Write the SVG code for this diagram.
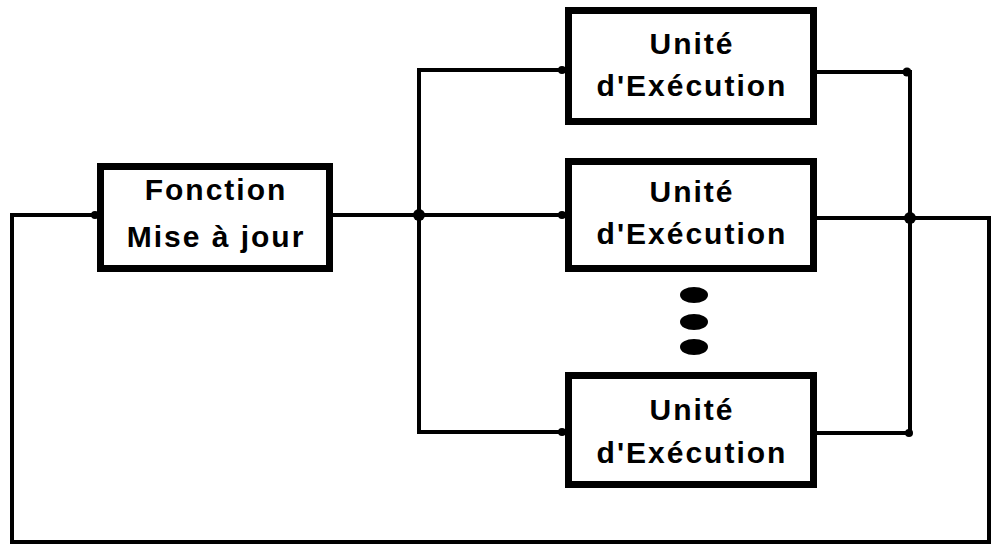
<svg xmlns="http://www.w3.org/2000/svg" width="993" height="545" viewBox="0 0 993 545">
  <style>
    .box { fill: #fff; stroke: #000; stroke-width: 7; }
    .wire { fill: none; stroke: #000; stroke-width: 4; stroke-linejoin: miter; stroke-linecap: square; }
    .label { font-family: "Liberation Sans", Arial, sans-serif; font-weight: bold; font-size: 30px; letter-spacing: 2px; fill: #000; text-anchor: middle; }
    .dot { fill: #000; }
  </style>
  <rect width="993" height="545" fill="#fff"/>

  <!-- connectors -->
  <g id="connectors">
    <!-- feed from the update function to the split bus -->
    <path class="wire" d="M333 215 L565 215"/>
    <!-- left distribution bus -->
    <path class="wire" d="M565 70 L419 70 L419 432 L565 432"/>
    <!-- right collection bus -->
    <path class="wire" d="M817 72 L910 72 L910 433 L817 433"/>
    <path class="wire" d="M817 218 L989 218 L989 542 L12 542 L12 215 L97 215"/>
    <!-- junctions -->
    <circle class="dot" cx="419" cy="215" r="6"/>
    <circle class="dot" cx="910" cy="218" r="6"/>
    <circle class="dot" cx="907" cy="72" r="4.5"/>
    <circle class="dot" cx="909" cy="433" r="4"/>
    <!-- entry points -->
    <circle class="dot" cx="95" cy="215" r="4"/>
    <circle class="dot" cx="562" cy="70" r="4"/>
    <circle class="dot" cx="562" cy="215" r="4"/>
    <circle class="dot" cx="562" cy="432" r="4"/>
  </g>

  <g id="fonction-mise-a-jour">
    <rect class="box" x="100.5" y="166.5" width="229" height="102"/>
    <text class="label" x="216" y="200">Fonction</text>
    <text class="label" x="216" y="247">Mise à jour</text>
  </g>

  <g id="unite-execution-1">
    <rect class="box" x="568.5" y="10.5" width="245" height="111"/>
    <text class="label" x="692" y="54">Unité</text>
    <text class="label" x="692" y="96">d'Exécution</text>
  </g>

  <g id="unite-execution-2">
    <rect class="box" x="568.5" y="161.5" width="245" height="107"/>
    <text class="label" x="692" y="202">Unité</text>
    <text class="label" x="692" y="244">d'Exécution</text>
  </g>

  <g id="ellipsis">
    <ellipse class="dot" cx="694" cy="295" rx="14" ry="8"/>
    <ellipse class="dot" cx="694" cy="322" rx="14" ry="8"/>
    <ellipse class="dot" cx="694" cy="347" rx="14" ry="8"/>
  </g>

  <g id="unite-execution-3">
    <rect class="box" x="568.5" y="375.5" width="245" height="109"/>
    <text class="label" x="692" y="420">Unité</text>
    <text class="label" x="692" y="463">d'Exécution</text>
  </g>
</svg>
